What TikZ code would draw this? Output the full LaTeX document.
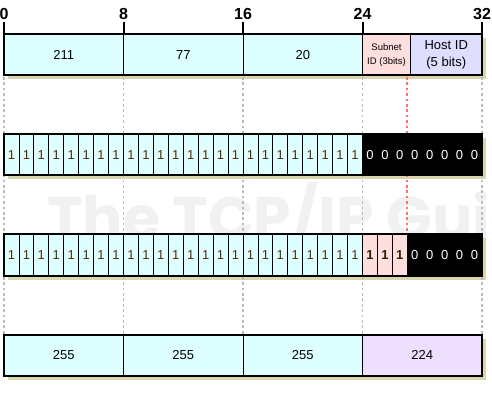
\documentclass[tikz,border=0pt]{standalone}
\usepackage{fontspec}
\setmainfont{Liberation Sans}
\newfontfamily\wmfont{Poppins}
\definecolor{cellcyan}{HTML}{DDFFFF}
\definecolor{cellpink}{HTML}{FFDEDE}
\definecolor{hostlav}{HTML}{DEDEFF}
\definecolor{masklav}{HTML}{EEDFFF}
\definecolor{shadowc}{HTML}{D9D5B0}
\definecolor{gdashc}{HTML}{BBBBBB}
\definecolor{rdashc}{HTML}{FF7070}
\definecolor{onec}{HTML}{552A00}
\definecolor{wmc}{HTML}{F1F1F1}
\tikzset{
  field/.style={draw=black, line width=0.8pt, inner sep=0pt, outer sep=0pt, anchor=north west, minimum height=41pt, font=\fontsize{13}{15}\selectfont},
  bitcell/.style={field, minimum width=14.9375pt},
  onebit/.style={bitcell, fill=cellcyan, text=onec},
  subbit/.style={bitcell, fill=cellpink, text=onec!60!black, font=\fontsize{13}{15}\selectfont\bfseries},
  zerobit/.style={bitcell, draw=none, fill=black, text=white},
  outer/.style={draw=black, line width=2pt},
  shadowbox/.style={fill=shadowc},
  gdash/.style={draw=gdashc, line width=1.3pt, dash pattern=on 2.7pt off 2.7pt},
  rdash/.style={draw=rdashc, line width=1.3pt, dash pattern=on 2.7pt off 2.7pt},
  toplabel/.style={inner sep=0pt, font=\fontsize{16}{16}\selectfont\bfseries},
  tick/.style={draw=black, line width=2pt},
  wm/.style={inner sep=0pt, text=wmc, font=\fontsize{60}{60}\wmfont\bfseries}
}
\begin{document}
\begin{tikzpicture}[x=1pt,y=-1pt]
\useasboundingbox (0,0) rectangle (492,395);
% watermark
\begin{scope}
\clip (0,0) rectangle (492,395);
\node[wm, anchor=base west] (wmark) at (47,240) {The TCP/IP Guide};
\end{scope}
% shadows
\foreach \t [count=\k] in {34.5,134.5,234.5,334.5}
  \fill[shadowbox] (8,\t+4) rectangle (486,\t+45);
% dashed guide lines
\foreach \xx [count=\k] in {4,123.5,243,362.5,482} {
  \coordinate (gt\k) at (\xx,77);
  \coordinate (gb\k) at (\xx,334);
  \draw[gdash] (gt\k) -- (gb\k);
}
\coordinate (rt) at (407,77);
\coordinate (rb) at (407,234);
\draw[rdash] (rt) -- (rb);
% top labels and ticks
\foreach \lab/\xx [count=\k] in {0/4,8/123.5,16/243,24/362.5,32/482} {
  \node[toplabel] (lab\k) at (\xx,14) {\lab};
  \coordinate (tk\k) at (\xx,22);
  \coordinate (tb\k) at (\xx,34.5);
  \draw[tick] (tk\k) -- (tb\k);
}
% row 1
\node[field, fill=cellcyan, minimum width=119.5pt] (r1a) at (4,34.5) {211};
\node[field, fill=cellcyan, minimum width=119.5pt] (r1b) at (123.5,34.5) {77};
\node[field, fill=cellcyan, minimum width=119.5pt] (r1c) at (243,34.5) {20};
\node[field, fill=cellpink, minimum width=48pt, align=center, font=\fontsize{9.5}{14}\selectfont] (r1s) at (362.5,34.5) {Subnet\\ID (3bits)};
\node[field, fill=hostlav, minimum width=71.5pt, align=center, font=\fontsize{13}{16.5}\selectfont] (r1h) at (410.5,34.5) {Host ID\\(5 bits)};
\draw[outer] (r1a.north west) rectangle (r1h.south east);
% row 2
\foreach \i in {0,...,23}
  \node[onebit] (r2b\i) at ({4+\i*14.9375},134.5) {1};
\foreach \i in {24,...,31}
  \node[zerobit] (r2b\i) at ({4+\i*14.9375},134.5) {0};
\draw[outer] (r2b0.north west) rectangle (r2b31.south east);
% row 3
\foreach \i in {0,...,23}
  \node[onebit] (r3b\i) at ({4+\i*14.9375},234.5) {1};
\foreach \i in {24,...,26}
  \node[subbit] (r3b\i) at ({4+\i*14.9375},234.5) {1};
\foreach \i in {27,...,31}
  \node[zerobit] (r3b\i) at ({4+\i*14.9375},234.5) {0};
\draw[outer] (r3b0.north west) rectangle (r3b31.south east);
% row 4
\node[field, fill=cellcyan, minimum width=119.5pt] (r4a) at (4,334.5) {255};
\node[field, fill=cellcyan, minimum width=119.5pt] (r4b) at (123.5,334.5) {255};
\node[field, fill=cellcyan, minimum width=119.5pt] (r4c) at (243,334.5) {255};
\node[field, fill=masklav, minimum width=119.5pt] (r4d) at (362.5,334.5) {224};
\draw[outer] (r4a.north west) rectangle (r4d.south east);
\end{tikzpicture}
\end{document}
